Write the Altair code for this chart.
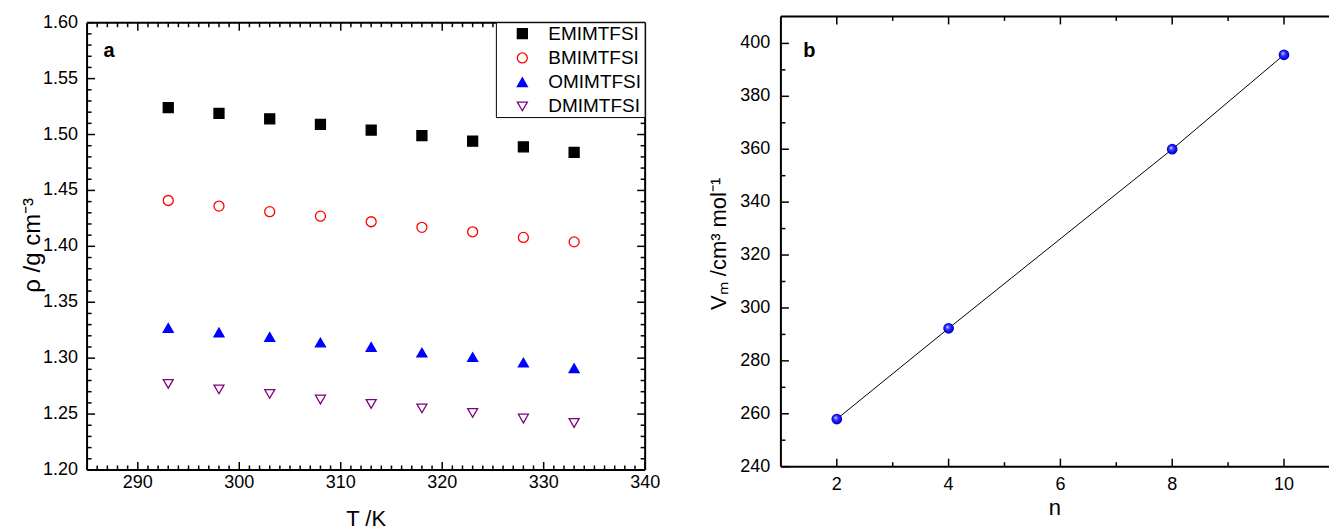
import altair as alt
import pandas as pd

FONT = "Liberation Sans"

# ---------------- data: panel a ----------------
T_K = [293, 298, 303, 308, 313, 318, 323, 328, 333]
rho_EMIMTFSI = [1.524, 1.519, 1.514, 1.509, 1.504, 1.499, 1.494, 1.489, 1.484]
rho_BMIMTFSI = [1.441, 1.436, 1.431, 1.427, 1.422, 1.417, 1.413, 1.408, 1.404]
rho_OMIMTFSI = [1.327, 1.323, 1.319, 1.314, 1.310, 1.305, 1.301, 1.296, 1.291]
rho_DMIMTFSI = [1.277, 1.272, 1.268, 1.263, 1.259, 1.255, 1.251, 1.246, 1.242]
series = ["EMIMTFSI", "BMIMTFSI", "OMIMTFSI", "DMIMTFSI"]
stroke_colors = ["#000000", "#ff0000", "#0000ff", "#800080"]
fill_colors = ["#000000", "transparent", "#0000ff", "transparent"]
shapes = ["square", "circle", "triangle-up", "triangle-down"]
sizes = [100, 100, 165, 130]

# ---------------- data: panel b ----------------
n_chain = [2, 4, 8, 10]
Vm = [258.0, 292.3, 360.0, 395.7]

# ---------------- axis ranges / ticks / labels ----------------
xa_dom = [285, 340]
xa_major = [290, 300, 310, 320, 330, 340]
xa_minor = [v for v in range(286, 340) if v % 10 != 0]
ya_major = [1.20, 1.25, 1.30, 1.35, 1.40, 1.45, 1.50, 1.55, 1.60]
ya_minor = [round(1.20 + 0.01 * i, 2) for i in range(1, 40) if i % 5 != 0]
xb_major = [2, 4, 6, 8, 10]
xb_minor = [3, 5, 7, 9]
yb_dom = [240, 410.2]
yb_major = [240, 260, 280, 300, 320, 340, 360, 380, 400]
yb_minor = [250, 270, 290, 310, 330, 350, 370, 390]
title_xa, title_ya = "T /K", "\u03c1 /g cm\u207b\u00b3"
title_xb, title_yb = "n", "V\u2098 /cm\u00b3 mol\u207b\u00b9"

rows = []
for name, vals in zip(series, [rho_EMIMTFSI, rho_BMIMTFSI, rho_OMIMTFSI, rho_DMIMTFSI]):
    for t, r in zip(T_K, vals):
        rows.append({"T": t, "rho": r, "series": name})
df_a = pd.DataFrame(rows)
df_b = pd.DataFrame({"n": n_chain, "Vm": Vm})

# ---------------- geometry (pixels) ----------------
WA, HA_PLOT = 559, 448          # panel a frame size
TOP_A = 6.3                     # panel a frame starts this far below panel b's top
HA = HA_PLOT + TOP_A
WB, HB = 549, 451
MAJ, MIN = 8, 4.5
PX_PER_N = 55.99

xb_dom = [1, 1 + WB / PX_PER_N]
xs_a = alt.Scale(domain=xa_dom, zero=False, nice=False)
ys_a = alt.Scale(domain=[ya_major[0], ya_major[-1] + TOP_A * (ya_major[-1] - ya_major[0]) / HA_PLOT],
                 zero=False, nice=False)
xs_b = alt.Scale(domain=xb_dom, zero=False, nice=False)
ys_b = alt.Scale(domain=yb_dom, zero=False, nice=False)


def X(f, s):
    return alt.X(f, scale=s, axis=None)


def Y(f, s):
    return alt.Y(f, scale=s, axis=None)


def rule(df, w=2):
    return alt.Chart(df).mark_rule(color="black", strokeWidth=w)


# inward tick marks: short line symbols (custom path) placed on the frame edges
PATH_UP, PATH_DOWN, PATH_RIGHT, PATH_LEFT = "M0,0L0,-2", "M0,0L0,2", "M0,0L2,0", "M0,0L-2,0"


def tick_set(xs, ys, xvals, yvals, path, length):
    d = pd.DataFrame({"x": xvals, "y": yvals})
    return alt.Chart(d).mark_point(filled=False, shape=path, size=length ** 2, color="black",
                                   strokeWidth=1.5, opacity=1).encode(
        x=X("x:Q", xs), y=Y("y:Q", ys))


def ticks(xs, ys, x_lo, y_lo, y_hi, xmaj, xmin, ymaj, ymin, x_hi=None):
    out = []
    for vals, ln in [(xmaj, MAJ), (xmin, MIN)]:
        out.append(tick_set(xs, ys, vals, [y_lo] * len(vals), PATH_UP, ln))
        out.append(tick_set(xs, ys, vals, [y_hi] * len(vals), PATH_DOWN, ln))
    for vals, ln in [(ymaj, MAJ), (ymin, MIN)]:
        out.append(tick_set(xs, ys, [x_lo] * len(vals), vals, PATH_RIGHT, ln))
        if x_hi is not None:
            out.append(tick_set(xs, ys, [x_hi] * len(vals), vals, PATH_LEFT, ln))
    return out


def text(size=18, **kw):
    return dict(font=FONT, fontSize=size, color="black", **kw)


def tick_labels(xs, ys, xvals, xlabs, yvals, ylabs, x_label_y, y_label_x):
    xl = alt.Chart(pd.DataFrame({"v": xvals, "lab": xlabs})).mark_text(
        **text(align="center", baseline="middle")).encode(
        x=X("v:Q", xs), y=alt.value(x_label_y), text="lab:N")
    yl = alt.Chart(pd.DataFrame({"v": yvals, "lab": ylabs})).mark_text(
        **text(align="right", baseline="middle")).encode(
        y=Y("v:Q", ys), x=alt.value(y_label_x), text="lab:N")
    return [xl, yl]


def title(t, x, y, size, angle=0):
    return alt.Chart(pd.DataFrame({"t": [t]})).mark_text(
        **text(size, align="center", baseline="middle", angle=angle)).encode(
        x=alt.value(x), y=alt.value(y), text="t:N")


# ---------------- panel a ----------------
color_enc = alt.Color("series:N", scale=alt.Scale(domain=series, range=stroke_colors), legend=None)
fill_enc = alt.Fill("series:N", scale=alt.Scale(domain=series, range=fill_colors), legend=None)
shape_enc = alt.Shape("series:N", scale=alt.Scale(domain=series, range=shapes), legend=None)
size_enc = alt.Size("series:N", scale=alt.Scale(domain=series, range=sizes), legend=None)

points_a = alt.Chart(df_a).mark_point(filled=False, strokeWidth=1.3, opacity=1).encode(
    x=X("T:Q", xs_a), y=Y("rho:Q", ys_a),
    color=color_enc, fill=fill_enc, shape=shape_enc, size=size_enc)

frame_df = pd.DataFrame({"lo": [ya_major[0]], "hi": [ya_major[-1]]})
fr = rule(frame_df)
frame_a = [
    fr.encode(x=alt.value(0), y=Y("lo:Q", ys_a), y2="hi:Q"),
    fr.encode(x=alt.value(WA), y=Y("lo:Q", ys_a), y2="hi:Q"),
    fr.encode(y=Y("hi:Q", ys_a), x=alt.value(0), x2=alt.value(WA)),
    fr.encode(y=Y("lo:Q", ys_a), x=alt.value(0), x2=alt.value(WA)),
]

# legend box (top-right corner of panel a)
LEG_X0, LEG_W, LEG_H, LEG_ROW = WA - 149, 149, 95, 24.3
legend_a = [alt.Chart(pd.DataFrame({"t": [0]})).mark_rect(
    fill="white", stroke="black", strokeWidth=1).encode(
    x=alt.value(LEG_X0), x2=alt.value(WA), y=alt.value(TOP_A), y2=alt.value(TOP_A + LEG_H))]
for i, name in enumerate(series):
    row_y = TOP_A + 11 + LEG_ROW * i
    d = pd.DataFrame({"series": [name]})
    legend_a.append(alt.Chart(d).mark_point(filled=False, strokeWidth=1.3, opacity=1).encode(
        x=alt.value(LEG_X0 + 26), y=alt.value(row_y),
        color=color_enc, fill=fill_enc, shape=shape_enc, size=size_enc))
    legend_a.append(alt.Chart(d).mark_text(**text(19, align="left", baseline="middle")).encode(
        x=alt.value(LEG_X0 + 52), y=alt.value(row_y), text="series:N"))

label_a = alt.Chart(pd.DataFrame({"t": ["a"]})).mark_text(
    **text(20, fontWeight="bold", align="center", baseline="middle")).encode(
    x=alt.value(22), y=alt.value(28 + TOP_A), text="t:N")

panel_a = alt.layer(
    *frame_a,
    *ticks(xs_a, ys_a, xa_dom[0], ya_major[0], ya_major[-1], xa_major, xa_minor,
           ya_major, ya_minor, x_hi=xa_dom[1]),
    points_a,
    *tick_labels(xs_a, ys_a, xa_major, [str(v) for v in xa_major],
                 ya_major, [f"{v:.2f}" for v in ya_major], HA + 13.5, -9),
    title(title_xa, WA / 2, HA + 49, 22),
    title(title_ya, -54, TOP_A + HA_PLOT / 2 - 1, 24, angle=270),
    *legend_a, label_a
).properties(width=WA, height=HA,
             view=alt.ViewBackground(stroke="black", strokeOpacity=0))

# ---------------- panel b ----------------
sphere = alt.Gradient(
    gradient="radial",
    stops=[alt.GradientStop(color="#eeeeff", offset=0),
           alt.GradientStop(color="#3a3aff", offset=0.35),
           alt.GradientStop(color="#0000e0", offset=0.8),
           alt.GradientStop(color="#00009a", offset=1)],
    x1=0.38, y1=0.35, r1=0, x2=0.5, y2=0.5, r2=0.55)

one = pd.DataFrame({"t": [0]})
frame_b = [
    rule(one).encode(x=alt.value(0), x2=alt.value(WB), y=alt.value(0)),
    rule(one).encode(x=alt.value(0), x2=alt.value(WB), y=alt.value(HB)),
    rule(one).encode(y=alt.value(0), y2=alt.value(HB), x=alt.value(0)),
]
line_b = alt.Chart(df_b).mark_line(color="black", strokeWidth=1).encode(
    x=X("n:Q", xs_b), y=Y("Vm:Q", ys_b))
points_b = alt.Chart(df_b).mark_point(filled=True, fill=sphere, size=115, opacity=1,
                                      strokeWidth=0).encode(
    x=X("n:Q", xs_b), y=Y("Vm:Q", ys_b))
label_b = alt.Chart(pd.DataFrame({"t": ["b"]})).mark_text(
    **text(20, fontWeight="bold", align="center", baseline="middle")).encode(
    x=alt.value(28.5), y=alt.value(34.5), text="t:N")

panel_b = alt.layer(
    *frame_b,
    *ticks(xs_b, ys_b, xb_dom[0], yb_dom[0], yb_dom[1], xb_major, xb_minor, yb_major, yb_minor),
    line_b,
    *tick_labels(xs_b, ys_b, xb_major, [str(v) for v in xb_major],
                 yb_major, [str(v) for v in yb_major], HB + 18.3, -10.7),
    title(title_xb, WB / 2, HB + 41, 22),
    title(title_yb, -61.7, 227.8, 22, angle=270),
    points_b, label_b
).properties(width=WB, height=HB,
             view=alt.ViewBackground(stroke="black", strokeOpacity=0))

chart = alt.hconcat(panel_a, panel_b, spacing=47).properties(
    padding={"left": 13.2, "top": 5, "right": 0, "bottom": 0}
).configure(background="white")

chart.save("out.html", embed_options={"renderer": "svg", "actions": False})
